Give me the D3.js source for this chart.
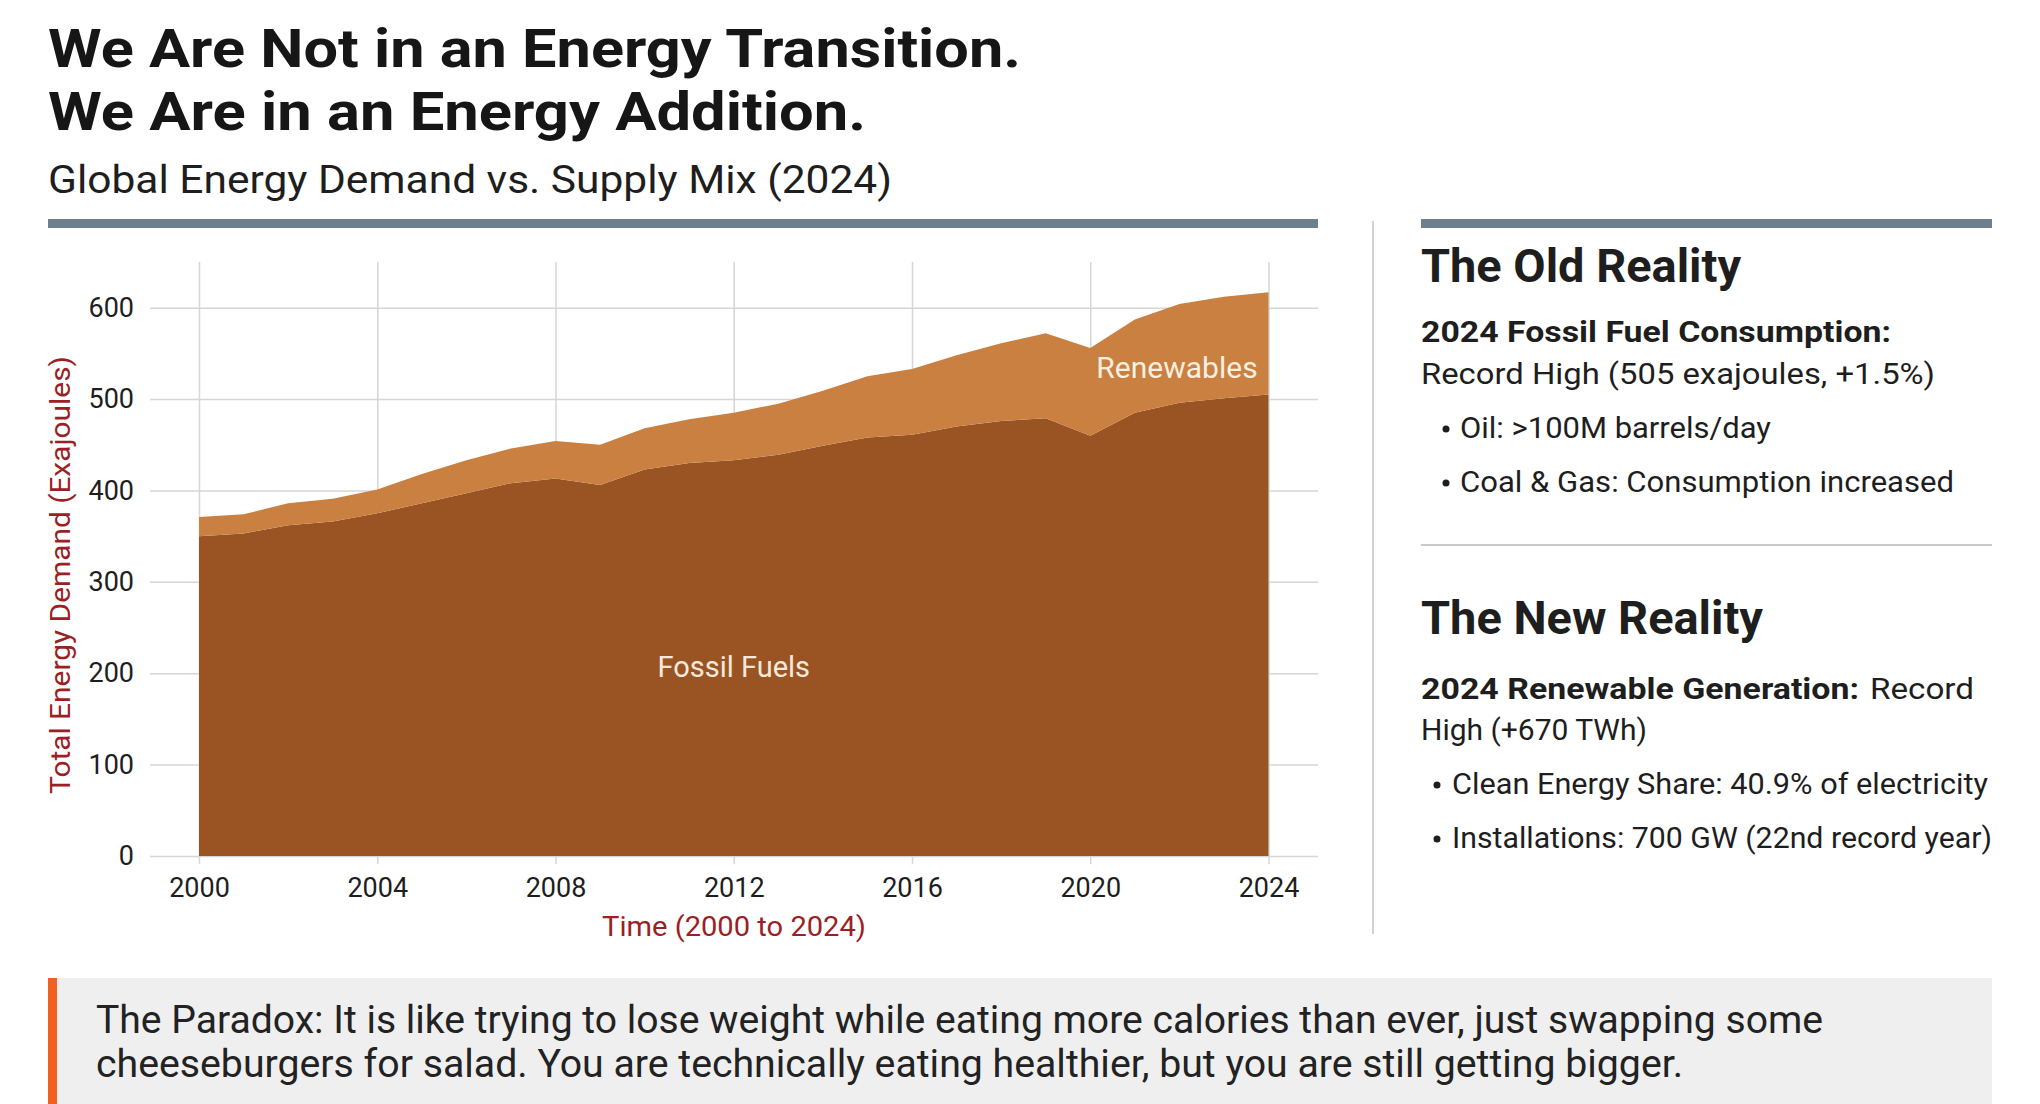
<!DOCTYPE html>
<html>
<head>
<meta charset="utf-8">
<script src="https://cdn.jsdelivr.net/npm/d3@7"></script>
<style>
  body { margin: 0; background: #fff; }
  svg { display: block; font-family: Roboto, "Noto Sans", sans-serif; }
</style>
</head>
<body>
<div id="chart"></div>
<script>
// chart data (exajoules)
const years = [2000, 2001, 2002, 2003, 2004, 2005, 2006, 2007, 2008, 2009, 2010, 2011, 2012,
               2013, 2014, 2015, 2016, 2017, 2018, 2019, 2020, 2021, 2022, 2023, 2024];
const fossil = [350, 353, 362, 366, 375, 386, 397, 408, 413, 406, 423, 430, 433,
                439, 449, 458, 461, 470, 476, 479, 460, 485, 496, 501, 505];
const renewables = [21, 21, 24, 25, 26, 32, 36, 38, 41, 44, 45, 48, 52,
                    56, 60, 67, 72, 78, 85, 93, 96, 102, 108, 111, 112];
const yTicks = [0, 100, 200, 300, 400, 500, 600];
const xTicks = [2000, 2004, 2008, 2012, 2016, 2020, 2024];

const titleLines = ["We Are Not in an Energy Transition.", "We Are in an Energy Addition."];
const subtitle = "Global Energy Demand vs. Supply Mix (2024)";
const oldBullets = ["Oil: >100M barrels/day", "Coal & Gas: Consumption increased"];
const newBullets = ["Clean Energy Share: 40.9% of electricity", "Installations: 700 GW (22nd record year)"];
const paradox = ["The Paradox: It is like trying to lose weight while eating more calories than ever, just swapping some",
                 "cheeseburgers for salad. You are technically eating healthier, but you are still getting bigger."];

let W = 2040, H = 1104;
let svg = d3.select("#chart").append("svg")
    .attr("width", W).attr("height", H)
    .attr("viewBox", "0 0 " + W + " " + H);

// squeeze text to the width it has in the reference
function fit(sel, len) {
    return sel.attr("textLength", len).attr("lengthAdjust", "spacingAndGlyphs");
}

// header
svg.selectAll(".title")
    .data(titleLines)
    .join("text")
    .attr("x", 48)
    .attr("y", (d, i) => 67 + i * 63)
    .attr("font-size", 53)
    .attr("font-weight", 700)
    .attr("fill", "#161616")
    .text(d => d)
    .each(function(d, i) { fit(d3.select(this), [973, 818][i]); });

fit(svg.append("text")
    .attr("x", 48).attr("y", 193)
    .attr("font-size", 38)
    .attr("fill", "#1e1e1e")
    .text(subtitle), 844);

svg.append("rect").attr("x", 48).attr("y", 219).attr("width", 1270).attr("height", 9).attr("fill", "#6e7f8e");
svg.append("rect").attr("x", 1421).attr("y", 219).attr("width", 571).attr("height", 9).attr("fill", "#6e7f8e");
svg.append("line")
    .attr("x1", 1373).attr("x2", 1373).attr("y1", 221).attr("y2", 934)
    .attr("stroke", "#d2d2d2").attr("stroke-width", 2);

// ---- area chart ----
let x = d3.scaleLinear().domain([2000, 2024]).range([199, 1268.5]);
let y = d3.scaleLinear().domain([0, 650]).range([856, 262]);

let table = years.map((yr, i) => ({year: yr, fossil: fossil[i], renewables: renewables[i]}));
let series = d3.stack().keys(["fossil", "renewables"])(table);
let colors = {fossil: "#9a5424", renewables: "#c98040"};

let grid = svg.append("g");
// horizontal grid
grid.append("g")
    .attr("transform", "translate(150,0)")
    .call(d3.axisLeft(y).tickValues(yTicks).tickSize(-1168).tickFormat(""))
    .call(g => g.select(".domain").remove())
    .call(g => g.selectAll("line").attr("stroke", "#d6d6d6").attr("stroke-width", 1.5));
// vertical grid (with the small ticks below the baseline)
grid.append("g")
    .attr("transform", "translate(0,864)")
    .call(d3.axisBottom(x).tickValues(xTicks).tickSize(-602).tickFormat(""))
    .call(g => g.select(".domain").remove())
    .call(g => g.selectAll("line").attr("stroke", "#d6d6d6").attr("stroke-width", 1.5));

let area = d3.area()
    .x(d => x(d.data.year))
    .y0(d => y(d[0]))
    .y1(d => y(d[1]));

svg.append("g").selectAll("path")
    .data(series)
    .join("path")
    .attr("fill", d => colors[d.key])
    .attr("d", area);

// tick labels
let yAxis = svg.append("g")
    .attr("transform", "translate(150,0)")
    .call(d3.axisLeft(y).tickValues(yTicks).tickSize(0).tickPadding(16));
yAxis.select(".domain").remove();
yAxis.selectAll("text").attr("font-size", 27).attr("fill", "#1e1e1e").attr("font-family", "Roboto, sans-serif");

let xAxis = svg.append("g")
    .attr("transform", "translate(0,872)")
    .call(d3.axisBottom(x).tickValues(xTicks).tickSize(0).tickPadding(6).tickFormat(d3.format("d")));
xAxis.select(".domain").remove();
xAxis.selectAll("text").attr("font-size", 27).attr("fill", "#1e1e1e").attr("font-family", "Roboto, sans-serif");

// axis titles
fit(svg.append("text")
    .attr("x", 734).attr("y", 936)
    .attr("text-anchor", "middle")
    .attr("font-size", 28)
    .attr("fill", "#9b1f24")
    .text("Time (2000 to 2024)"), 264);

fit(svg.append("text")
    .attr("transform", "translate(70,575) rotate(-90)")
    .attr("text-anchor", "middle")
    .attr("font-size", 27)
    .attr("fill", "#9b1f24")
    .text("Total Energy Demand (Exajoules)"), 438);

// in-area labels
svg.append("text")
    .attr("x", x(2012)).attr("y", 677)
    .attr("text-anchor", "middle")
    .attr("font-size", 29)
    .attr("fill", "#f6e9dc")
    .text("Fossil Fuels");
svg.append("text")
    .attr("x", 1177).attr("y", 378)
    .attr("text-anchor", "middle")
    .attr("font-size", 30)
    .attr("fill", "#fbefe0")
    .text("Renewables");

// ---- right panel ----
let panel = svg.append("g").attr("fill", "#1e1e1e");

fit(panel.append("text").attr("x", 1421).attr("y", 282)
    .attr("font-size", 47).attr("font-weight", 700).text("The Old Reality"), 320);
fit(panel.append("text").attr("x", 1421).attr("y", 342)
    .attr("font-size", 29).attr("font-weight", 700).text("2024 Fossil Fuel Consumption:"), 470);
fit(panel.append("text").attr("x", 1421).attr("y", 384)
    .attr("font-size", 30).text("Record High (505 exajoules, +1.5%)"), 514);

oldBullets.forEach(function(t, i) {
    panel.append("circle").attr("cx", 1446).attr("cy", 429 + i * 54).attr("r", 3.5);
    fit(panel.append("text").attr("x", 1460).attr("y", 438 + i * 54)
        .attr("font-size", 30).text(t), [311, 494][i]);
});

panel.append("line")
    .attr("x1", 1421).attr("x2", 1992).attr("y1", 545).attr("y2", 545)
    .attr("stroke", "#c9c9c9").attr("stroke-width", 2);

fit(panel.append("text").attr("x", 1421).attr("y", 634)
    .attr("font-size", 47).attr("font-weight", 700).text("The New Reality"), 342);
fit(panel.append("text").attr("x", 1421).attr("y", 699)
    .attr("font-size", 29).attr("font-weight", 700).text("2024 Renewable Generation:"), 438);
fit(panel.append("text").attr("x", 1870).attr("y", 699)
    .attr("font-size", 30).text("Record"), 104);
panel.append("text").attr("x", 1421).attr("y", 740)
    .attr("font-size", 30).text("High (+670 TWh)");

newBullets.forEach(function(t, i) {
    panel.append("circle").attr("cx", 1437).attr("cy", 785 + i * 54).attr("r", 3.5);
    fit(panel.append("text").attr("x", 1452).attr("y", 794 + i * 54)
        .attr("font-size", 30).text(t), [536, 540][i]);
});

// ---- bottom callout ----
svg.append("rect").attr("x", 48).attr("y", 978).attr("width", 1944).attr("height", 126).attr("fill", "#efefef");
svg.append("rect").attr("x", 48).attr("y", 978).attr("width", 9).attr("height", 126).attr("fill", "#f2601f");
svg.selectAll(".paradox")
    .data(paradox)
    .join("text")
    .attr("x", 96)
    .attr("y", (d, i) => 1033 + i * 44)
    .attr("font-size", 38)
    .attr("fill", "#222")
    .text(d => d)
    .each(function(d, i) { fit(d3.select(this), [1727, 1587][i]); });
</script>
</body>
</html>
